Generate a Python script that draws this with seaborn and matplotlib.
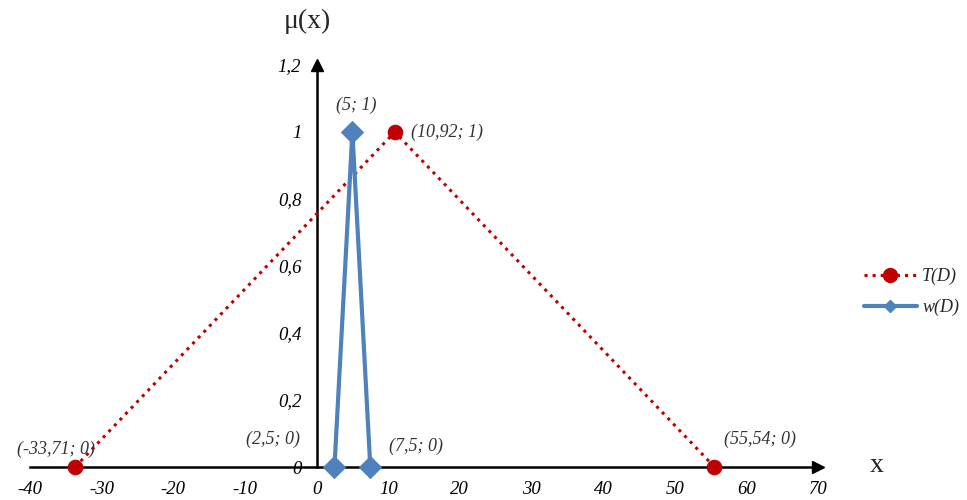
import matplotlib
matplotlib.use('Agg')
import matplotlib.pyplot as plt
from matplotlib.ticker import FuncFormatter, MultipleLocator
from matplotlib.lines import Line2D
import seaborn as sns

# данные
t_x = [-33.71, 10.92, 55.54]
t_y = [0, 1, 0]
w_x = [2.5, 5, 7.5]
w_y = [0, 1, 0]

t_labels = ['(-33,71; 0)', '(10,92; 1)', '(55,54; 0)']
w_labels = ['(2,5; 0)', '(5; 1)', '(7,5; 0)']

RED = '#C00000'
BLUE = '#4F81BD'

sns.set_style('white')
plt.rcParams['font.family'] = ['Liberation Serif', 'DejaVu Serif']

fig = plt.figure(figsize=(9.67, 5), dpi=100)
ax = fig.add_axes([0.031, 0.066, 0.815, 0.804])

sns.lineplot(x=t_x, y=t_y, ax=ax, color=RED, linestyle=':', linewidth=2.2,
             marker='o', markersize=10.5, markeredgecolor=RED, sort=False,
             clip_on=False, zorder=3)
sns.lineplot(x=w_x, y=w_y, ax=ax, color=BLUE, linestyle='-', linewidth=3,
             marker='D', markersize=11, markeredgecolor=BLUE, sort=False,
             clip_on=False, zorder=4)

ax.set_xlim(-40, 70)
ax.set_ylim(0, 1.2)
ax.xaxis.set_major_locator(MultipleLocator(10))
ax.yaxis.set_major_locator(MultipleLocator(0.2))
fmt = FuncFormatter(lambda v, p: f'{v:.1f}'.rstrip('0').rstrip('.').replace('.', ','))
ax.xaxis.set_major_formatter(fmt)
ax.yaxis.set_major_formatter(fmt)

ax.spines['left'].set_position(('data', 0))
ax.spines['bottom'].set_position(('data', 0))
ax.spines['top'].set_visible(False)
ax.spines['right'].set_visible(False)
for s in ['left', 'bottom']:
    ax.spines[s].set_color('black')
    ax.spines[s].set_linewidth(1.8)
ax.tick_params(axis='both', direction='out', length=5, width=1.5,
               color='black', labelsize=13.5, labelcolor='black')
ax.tick_params(axis='y', pad=6)
ax.tick_params(axis='x', pad=5)
for lbl in ax.get_xticklabels() + ax.get_yticklabels():
    lbl.set_fontstyle('italic')

# стрелки осей
ax.plot(1, 0, '>k', markersize=8, transform=ax.get_yaxis_transform(), clip_on=False)
ax.plot(0, 1, '^k', markersize=8, transform=ax.get_xaxis_transform(), clip_on=False)

# подписи точек
t_off = [(-14, 13, 'center'), (12, 0, 'left'), (33, 20, 'center')]
w_off = [(-44, 20, 'center'), (3, 19, 'center'), (33, 15, 'center')]
for xs, ys, labs, offs in [(t_x, t_y, t_labels, t_off), (w_x, w_y, w_labels, w_off)]:
    for xv, yv, lab, (dx, dy, ha) in zip(xs, ys, labs, offs):
        ax.annotate(lab, (xv, yv), xytext=(dx, dy), textcoords='offset points',
                    ha=ha, va='center', fontsize=13, fontstyle='italic',
                    color='#333333')

fig.text(0.318, 0.958, 'μ(x)', fontsize=20, ha='center', va='center')
fig.text(0.907, 0.07, 'x', fontsize=20, ha='center', va='center')

handles = [
    Line2D([], [], color=RED, linestyle=':', linewidth=2.2, marker='o',
           markersize=10, markeredgecolor=RED),
    Line2D([], [], color=BLUE, linestyle='-', linewidth=3, marker='D',
           markersize=6, markeredgecolor=BLUE),
]
leg = ax.legend(handles, ['T(D)', 'w(D)'], loc='center left',
                bbox_to_anchor=(0.877, 0.416), bbox_transform=fig.transFigure,
                frameon=False, handlelength=2.9, fontsize=13,
                labelspacing=0.75, handletextpad=0.3)
for txt in leg.get_texts():
    txt.set_fontstyle('italic')

fig.savefig('out.png', dpi=100)
